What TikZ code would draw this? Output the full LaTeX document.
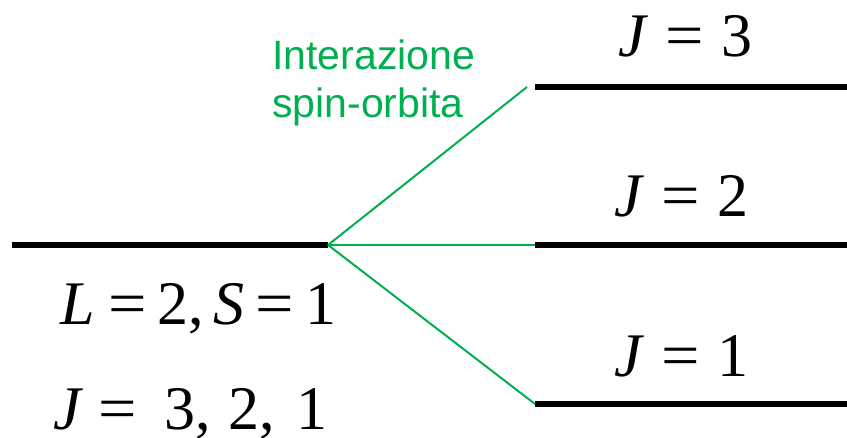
\documentclass[tikz,border=0pt]{standalone}
\usepackage{fontspec}
\setmainfont{Liberation Serif}
\newfontfamily\labelsans{Liberation Sans}
\definecolor{sogreen}{RGB}{0,176,80}
\begin{document}
\begin{tikzpicture}[x=1pt,y=1pt,
  level/.style={line width=6pt},
  split/.style={sogreen,line width=2pt},
  big/.style={font=\fontsize{62}{72}\selectfont, inner sep=0pt, anchor=base west},
  note/.style={font=\labelsans\fontsize{41}{48}\selectfont, text=sogreen, inner sep=0pt, anchor=base west}]
\useasboundingbox (0,0) rectangle (847,438);
% level end points
\coordinate (l0a) at (12,193);
\coordinate (l0b) at (328,193);
\coordinate (l3a) at (535,351);
\coordinate (l3b) at (847,351);
\coordinate (l2a) at (535,193);
\coordinate (l2b) at (847,193);
\coordinate (l1a) at (535,34);
\coordinate (l1b) at (847,34);
\coordinate (s3) at (527,351);
% levels
\draw[level] (l0a) -- (l0b);
\draw[level] (l3a) -- (l3b);
\draw[level] (l2a) -- (l2b);
\draw[level] (l1a) -- (l1b);
% splitting lines
\draw[split] (l0b) -- (s3);
\draw[split] (l0b) -- (l2a);
\draw[split] (l0b) -- (l1a);
% labels
\node[big] (j3) at (618,381) {\textit{J}\hspace{17pt}\scalebox{1.1}[1]{=}\hspace{18pt}3};
\node[big] (j2) at (614,221) {\textit{J}\hspace{17pt}\scalebox{1.1}[1]{=}\hspace{18pt}2};
\node[big] (j1) at (614,61) {\textit{J}\hspace{17pt}\scalebox{1.1}[1]{=}\hspace{18pt}1};
\node[big] (ls) at (60,113) {\textit{L}\hspace{14pt}\scalebox{1.1}[1]{=}\hspace{10pt}2,\hspace{10pt}\textit{S}\hspace{11pt}\scalebox{1.1}[1]{=}\hspace{11pt}1};
\node[big] (jall) at (53,8) {\textit{J}\hspace{15pt}\scalebox{1.1}[1]{=}\hspace{28pt}3,\hspace{17pt}2,\hspace{22pt}1};
\node[note] (n1) at (272,368) {Interazione};
\node[note] (n2) at (272,320) {spin-orbita};
\end{tikzpicture}
\end{document}
